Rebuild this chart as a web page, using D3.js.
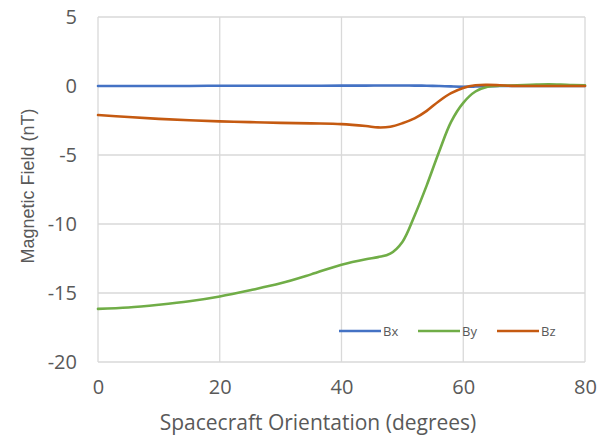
<!DOCTYPE html>
<html>
<head>
<meta charset="utf-8">
<script src="https://cdn.jsdelivr.net/npm/d3@7"></script>
<style>
  body { margin: 0; background: #fff; }
  svg text { font-family: "Open Sans", sans-serif; fill: #595959; }
</style>
</head>
<body>
<div id="chart"></div>
<script>
// orientation angles (degrees) and field components (nT)
var angles = [0, 5, 10, 15, 20, 25, 30, 35, 40, 44, 46, 48, 50, 52, 54, 56, 58, 60, 62, 64, 66, 68, 70, 72, 74, 76, 78, 80];
var bx = [0, 0, 0, 0, 0.02, 0.02, 0.02, 0.02, 0.03, 0.03, 0.04, 0.04, 0.04, 0.03, 0.02, 0.0, -0.03, -0.05, -0.04, -0.02, 0, 0, 0, 0, 0, 0, 0, 0];
var by = [-16.15, -16.05, -15.85, -15.6, -15.25, -14.8, -14.3, -13.65, -12.95, -12.55, -12.4, -12.15, -11.3, -9.4, -7.2, -4.8, -2.6, -1.22, -0.4, -0.05, 0.02, 0.04, 0.07, 0.1, 0.12, 0.1, 0.06, 0.05];
var bz = [-2.1, -2.25, -2.38, -2.48, -2.56, -2.62, -2.67, -2.71, -2.76, -2.9, -3.0, -2.95, -2.7, -2.35, -1.8, -1.1, -0.52, -0.14, 0.05, 0.08, 0.05, 0.01, 0, 0, 0, 0, 0, 0];

var xTicks = [0, 20, 40, 60, 80];
var yTicks = [-20, -15, -10, -5, 0, 5];

var series = [
  {name: "Bx", values: bx, color: "#4472c4"},
  {name: "By", values: by, color: "#70ad47"},
  {name: "Bz", values: bz, color: "#c55a11"}
];

var W = 606, H = 438;
var margin = {top: 17, right: 21, bottom: 76, left: 98};
var width = W - margin.left - margin.right,
    height = H - margin.top - margin.bottom;

var svg = d3.select("#chart")
  .append("svg")
    .attr("width", W)
    .attr("height", H)
  .append("g")
    .attr("transform", "translate(" + margin.left + "," + margin.top + ")");

var x = d3.scaleLinear().domain([0, 80]).range([0, width]);
var y = d3.scaleLinear().domain([-20, 5]).range([height, 0]);

// gridlines
svg.append("g")
  .selectAll("line")
  .data(yTicks)
  .enter().append("line")
    .attr("x1", 0).attr("x2", width)
    .attr("y1", function(d) { return y(d); })
    .attr("y2", function(d) { return y(d); })
    .attr("stroke", "#d9d9d9")
    .attr("stroke-width", 1.3);

svg.append("g")
  .selectAll("line")
  .data(xTicks)
  .enter().append("line")
    .attr("y1", 0).attr("y2", height)
    .attr("x1", function(d) { return x(d); })
    .attr("x2", function(d) { return x(d); })
    .attr("stroke", "#d9d9d9")
    .attr("stroke-width", 1.3);

// plain hyphen for negatives, like the original
var fmt = function(d) { return String(d); };

// axes (labels only)
var xAxis = svg.append("g")
  .attr("transform", "translate(0," + height + ")")
  .call(d3.axisBottom(x).tickValues(xTicks).tickFormat(fmt).tickSize(0).tickPadding(18));
xAxis.select(".domain").remove();
xAxis.selectAll("text").style("font-size", "20px").attr("fill", "#595959");

var yAxis = svg.append("g")
  .call(d3.axisLeft(y).tickValues(yTicks).tickFormat(fmt).tickSize(0).tickPadding(21));
yAxis.select(".domain").remove();
yAxis.selectAll("text").style("font-size", "20px").attr("fill", "#595959");

// axis titles
svg.append("text")
  .attr("x", (318 - margin.left))
  .attr("y", height + 68)
  .attr("text-anchor", "middle")
  .style("font-size", "21px")
  .text("Spacecraft Orientation (degrees)");

svg.append("text")
  .attr("transform", "rotate(-90)")
  .attr("x", -(186 - margin.top))
  .attr("y", -64)
  .attr("text-anchor", "middle")
  .style("font-family", "'Liberation Sans', Arial, sans-serif")
  .style("font-size", "18px")
  .text("Magnetic Field (nT)");

// lines
var line = d3.line()
  .x(function(d) { return x(d[0]); })
  .y(function(d) { return y(d[1]); })
  .curve(d3.curveCatmullRom);

series.forEach(function(s) {
  svg.append("path")
    .datum(angles.map(function(a, i) { return [a, s.values[i]]; }))
    .attr("d", line)
    .attr("fill", "none")
    .attr("stroke", s.color)
    .attr("stroke-width", 2.6)
    .attr("stroke-linecap", "round");
});

// legend
var legend = svg.append("g")
  .attr("transform", "translate(" + (339 - margin.left) + "," + (331 - margin.top) + ")");
series.forEach(function(s, i) {
  var g = legend.append("g").attr("transform", "translate(" + (i * 79) + ",0)");
  g.append("line")
    .attr("x1", 0).attr("x2", 42)
    .attr("stroke", s.color)
    .attr("stroke-width", 2.6);
  g.append("text")
    .attr("x", 44)
    .attr("dy", "0.35em")
    .style("font-size", "13px")
    .text(s.name);
});
</script>
</body>
</html>
